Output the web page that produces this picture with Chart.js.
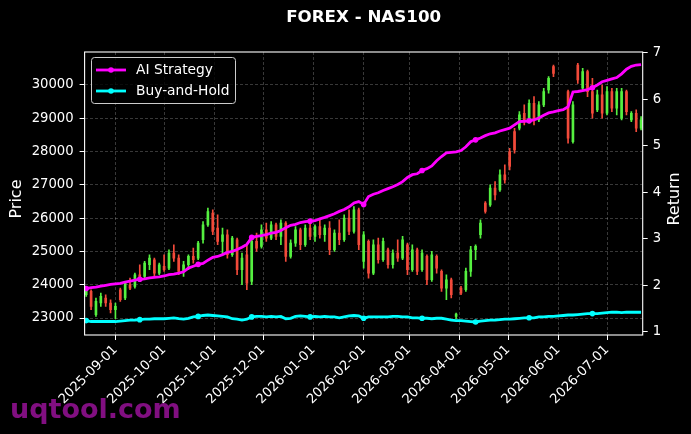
<!DOCTYPE html>
<html>
<head>
<meta charset="utf-8">
<script src="https://cdn.jsdelivr.net/npm/chart.js@4.4.0/dist/chart.umd.min.js"></script>
<style>
  html, body { margin: 0; padding: 0; background: #000; }
  #wrap { width: 691px; height: 434px; }
</style>
</head>
<body>
<div id="wrap"><canvas id="myChart" width="691" height="434"></canvas></div>
<script>
// chart data
const chartTitle = "FOREX - NAS100";
const dates = [
  "2025-08-14","2025-08-17","2025-08-20","2025-08-23","2025-08-26","2025-08-29",
  "2025-09-01","2025-09-04","2025-09-07","2025-09-10","2025-09-13","2025-09-16","2025-09-19","2025-09-22","2025-09-25","2025-09-28",
  "2025-10-01","2025-10-04","2025-10-07","2025-10-10","2025-10-13","2025-10-16","2025-10-19","2025-10-22","2025-10-25","2025-10-28","2025-10-31",
  "2025-11-03","2025-11-06","2025-11-09","2025-11-12","2025-11-15","2025-11-18","2025-11-21","2025-11-24","2025-11-27","2025-11-30",
  "2025-12-03","2025-12-06","2025-12-09","2025-12-12","2025-12-15","2025-12-18","2025-12-21","2025-12-24","2025-12-27","2025-12-30",
  "2026-01-02","2026-01-05","2026-01-08","2026-01-11","2026-01-14","2026-01-17","2026-01-20","2026-01-23","2026-01-26","2026-01-29",
  "2026-02-01","2026-02-04","2026-02-07","2026-02-10","2026-02-13","2026-02-16","2026-02-19","2026-02-22","2026-02-25","2026-02-28",
  "2026-03-03","2026-03-06","2026-03-09","2026-03-12","2026-03-15","2026-03-18","2026-03-21","2026-03-24","2026-03-27","2026-03-30",
  "2026-04-02","2026-04-05","2026-04-08","2026-04-11","2026-04-14","2026-04-17","2026-04-20","2026-04-23","2026-04-26","2026-04-29",
  "2026-05-02","2026-05-05","2026-05-08","2026-05-11","2026-05-14","2026-05-17","2026-05-20","2026-05-23","2026-05-26","2026-05-29",
  "2026-06-01","2026-06-04","2026-06-07","2026-06-10","2026-06-13","2026-06-16","2026-06-19","2026-06-22","2026-06-25","2026-06-28",
  "2026-07-01","2026-07-04","2026-07-07","2026-07-10","2026-07-13","2026-07-16","2026-07-19","2026-07-22"
];
const openP = [
  23700,23800,23100,23450,23600,23450,23250,23850,23600,24000,
  23950,24300,24250,24600,24750,24350,24550,24500,24950,24800,
  24400,24600,24850,24800,25350,25800,26150,25700,25300,25500,
  24900,25350,24450,24900,24100,25300,25150,25650,25400,25800,
  25450,25850,24850,25250,25650,25200,25700,25450,25750,25500,
  25700,25050,25550,25350,26000,25600,26250,24700,25300,24350,
  25200,24750,25050,24600,24950,24800,25200,24450,25050,24450,
  24850,24150,24850,24400,23900,24150,23050,23900,23850,24400,
  25050,25500,26450,26400,26900,26850,27300,28000,28600,28700,
  29150,28900,29450,28950,29400,29850,30550,null,null,29800,
  28300,30600,29900,30400,29800,29250,29700,29150,29800,29300,
  29000,29800,28950,29150,28700
];
const highP = [
  23900,23850,23600,23750,23700,23550,23450,23900,24100,24200,
  24350,24600,24700,24900,24800,24650,24900,25050,25200,24900,
  24700,24900,25100,25300,25900,26300,26250,26100,25700,25650,
  25450,25400,24950,25200,25400,25550,25800,25850,25900,25850,
  25950,25900,25350,25750,25700,25800,25900,25800,25950,25800,
  25900,25650,25950,26100,26250,26350,26300,25600,25350,25350,
  25400,25400,25100,25050,25350,25450,25250,25200,25100,25050,
  24900,25000,24900,24450,24300,24200,23150,23950,24500,25150,
  25200,25950,26500,27000,27100,27450,27600,28100,28700,29200,
  29400,29550,29650,29500,29900,30250,30600,null,null,29850,
  29500,30650,30500,30450,30200,29850,30000,29950,29900,29900,
  29900,29850,29200,29250,29050
];
const lowP = [
  23650,23250,23050,23350,23350,23150,22980,23500,23550,23850,
  23900,24150,24200,24450,24250,24300,24400,24450,24700,24300,
  24250,24450,24650,24750,25250,25750,25500,25200,24900,24800,
  24850,24300,24000,23850,24000,25000,25100,25300,25350,25350,
  25200,24700,24800,25150,25050,25150,25350,25300,25400,25300,
  24900,25000,25200,25300,25500,25550,25050,24500,24200,24300,
  24650,24700,24500,24500,24700,24750,24300,24400,24300,24400,
  24000,24100,24350,23800,23550,23600,22980,23700,23800,24250,
  24750,25400,26150,26350,26550,26800,27050,27450,27950,28650,
  28800,28850,28800,28900,29350,29750,30250,null,null,28250,
  28250,30050,29850,29650,29000,29200,29000,29100,29200,29100,
  28950,29100,28900,28600,28650
];
const closeP = [
  23850,23350,23500,23650,23450,23250,23350,23550,24050,23900,
  24300,24200,24650,24800,24350,24600,24450,24950,24800,24400,
  24600,24850,24750,25250,25800,26200,25600,25300,25500,24900,
  25400,24450,24800,24050,25300,25100,25650,25400,25800,25450,
  25850,24850,25250,25650,25200,25700,25450,25750,25500,25700,
  25050,25550,25350,26000,25600,26250,25200,25500,24350,25200,
  24750,25300,24600,24950,24800,25350,24450,25050,24400,24950,
  24150,24900,24500,23900,24150,23700,23120,23750,24400,25050,
  25150,25850,26200,26900,26700,27300,27150,27550,28050,29100,
  28900,29450,28950,29400,29800,30200,30350,null,null,28400,
  29400,30150,30400,29800,29150,29700,29150,29800,29300,29800,
  29800,29200,29150,28700,28950
];
const aiReturn = [
  1.93,1.95,1.96,1.98,2.00,2.02,2.03,2.04,2.07,2.09,
  2.11,2.13,2.14,2.16,2.17,2.18,2.20,2.23,2.24,2.26,
  2.29,2.37,2.41,2.45,2.47,2.54,2.60,2.62,2.66,2.71,
  2.73,2.77,2.82,2.88,3.03,3.05,3.07,3.09,3.12,3.14,
  3.18,3.24,3.29,3.31,3.35,3.37,3.38,3.39,3.43,3.46,
  3.50,3.54,3.59,3.63,3.69,3.77,3.80,3.74,3.91,3.96,
  3.99,4.04,4.08,4.12,4.17,4.23,4.32,4.38,4.40,4.47,
  4.51,4.57,4.68,4.77,4.85,4.86,4.87,4.90,4.98,5.09,
  5.13,5.17,5.22,5.26,5.28,5.32,5.35,5.38,5.45,5.52,
  5.53,5.54,5.56,5.60,5.66,5.71,5.73,5.76,5.78,5.84,
  6.16,6.17,6.19,6.21,6.25,6.31,6.38,6.41,6.44,6.47,
  6.55,6.65,6.71,6.74,6.75
];
const holdReturn = [
  1.24,1.22,1.22,1.22,1.22,1.22,1.22,1.23,1.24,1.25,
  1.25,1.26,1.27,1.27,1.28,1.28,1.28,1.29,1.30,1.28,
  1.27,1.29,1.32,1.33,1.35,1.36,1.35,1.34,1.33,1.32,
  1.28,1.27,1.25,1.27,1.32,1.33,1.33,1.32,1.33,1.32,
  1.33,1.28,1.29,1.33,1.34,1.33,1.32,1.33,1.32,1.33,
  1.32,1.32,1.30,1.32,1.34,1.35,1.34,1.29,1.32,1.32,
  1.32,1.32,1.32,1.33,1.33,1.32,1.32,1.30,1.30,1.29,
  1.29,1.28,1.29,1.29,1.27,1.25,1.24,1.24,1.23,1.22,
  1.21,1.23,1.24,1.25,1.25,1.26,1.27,1.27,1.28,1.29,
  1.30,1.30,1.30,1.32,1.32,1.33,1.33,1.34,1.35,1.36,
  1.36,1.37,1.38,1.39,1.39,1.39,1.40,1.41,1.42,1.42,
  1.41,1.42,1.42,1.42,1.42
];
const monthTicks = ["2025-09-01","2025-10-01","2025-11-01","2025-12-01","2026-01-01","2026-02-01",
                    "2026-03-01","2026-04-01","2026-05-01","2026-06-01","2026-07-01"];
const priceTicks = [23000, 24000, 25000, 26000, 27000, 28000, 29000, 30000];
const returnTicks = [1, 2, 3, 4, 5, 6, 7];
const markerIdx = [0, 11, 23, 34, 46, 57, 69, 80, 91, 104];

const DAY = 86400000;
const toDay = s => Date.parse(s) / DAY;
const fontFamily = '"DejaVu Sans", sans-serif';
const upColor = '#55f040', downColor = '#f24a3a';
const gridColor = 'rgba(255,255,255,0.22)';

const candles = [];
dates.forEach((d, i) => {
  if (openP[i] == null) return;
  candles.push({ x: toDay(d), o: openP[i], h: highP[i], l: lowP[i], c: closeP[i] });
});
const candleColors = candles.map(k => k.c >= k.o ? upColor : downColor);

// titles, frame, legend and watermark drawn over the chart
const decor = {
  id: 'decor',
  beforeDraw(chart) {
    const ctx = chart.ctx;
    ctx.save();
    ctx.fillStyle = '#000';
    ctx.fillRect(0, 0, chart.width, chart.height);
    ctx.restore();
  },
  afterDraw(chart) {
    const { ctx, chartArea: a } = chart;
    ctx.save();
    ctx.strokeStyle = '#fff';
    ctx.lineWidth = 1.1;
    ctx.strokeRect(a.left, a.top, a.right - a.left, a.bottom - a.top);

    ctx.fillStyle = '#fff';
    ctx.textAlign = 'center';
    ctx.textBaseline = 'middle';
    ctx.font = 'bold 16.7px ' + fontFamily;
    ctx.fillText(chartTitle, (a.left + a.right) / 2, 18);

    ctx.font = '16px ' + fontFamily;
    ctx.save(); ctx.translate(17, 199); ctx.rotate(-Math.PI / 2); ctx.fillText('Price', 0, 0); ctx.restore();
    ctx.save(); ctx.translate(675, 199); ctx.rotate(-Math.PI / 2); ctx.fillText('Return', 0, 0); ctx.restore();

    // legend
    ctx.beginPath();
    ctx.roundRect(91.5, 57.5, 144, 46, 3);
    ctx.fillStyle = 'rgba(0,0,0,0.8)';
    ctx.fill();
    ctx.strokeStyle = '#cccccc';
    ctx.lineWidth = 1;
    ctx.stroke();
    const items = chart.data.datasets.filter(ds => ds.type === 'line');
    items.forEach((ds, i) => {
      const y = 70 + i * 21;
      ctx.strokeStyle = ds.borderColor;
      ctx.lineWidth = 2.8;
      ctx.beginPath(); ctx.moveTo(96, y); ctx.lineTo(126, y); ctx.stroke();
      ctx.fillStyle = ds.borderColor;
      ctx.beginPath(); ctx.arc(111, y, 2.8, 0, Math.PI * 2); ctx.fill();
      ctx.fillStyle = '#fff';
      ctx.textAlign = 'left';
      ctx.font = '13.8px ' + fontFamily;
      ctx.fillText(ds.label, 136, y);
    });

    ctx.font = 'bold 27px ' + fontFamily;
    ctx.fillStyle = 'rgba(140,16,140,0.92)';
    ctx.textAlign = 'left';
    ctx.textBaseline = 'alphabetic';
    ctx.fillText('uqtool.com', 10, 418);
    ctx.restore();
  }
};

const tickFont = { family: fontFamily, size: 13.2 };

const ctx = document.getElementById('myChart').getContext('2d');
const chart = new Chart(ctx, {
  type: 'bar',
  data: {
    datasets: [{
      type: 'line',
      label: 'AI Strategy',
      yAxisID: 'y1',
      data: dates.map((d, i) => ({ x: toDay(d), y: aiReturn[i] })),
      borderColor: '#ff00ff',
      backgroundColor: '#ff00ff',
      borderWidth: 2.8,
      pointRadius: c => markerIdx.includes(c.dataIndex) ? 2.8 : 0,
      pointBorderWidth: 0,
      tension: 0,
      order: 0
    }, {
      type: 'line',
      label: 'Buy-and-Hold',
      yAxisID: 'y1',
      data: dates.map((d, i) => ({ x: toDay(d), y: holdReturn[i] })),
      borderColor: '#00ffff',
      backgroundColor: '#00ffff',
      borderWidth: 2.8,
      pointRadius: c => markerIdx.includes(c.dataIndex) ? 2.8 : 0,
      pointBorderWidth: 0,
      tension: 0,
      order: 0
    }, {
      label: 'Range',
      yAxisID: 'y',
      data: candles.map(k => ({ x: k.x, y: [k.l, k.h] })),
      backgroundColor: candleColors,
      barThickness: 1,
      grouped: false,
      order: 2
    }, {
      label: 'Body',
      yAxisID: 'y',
      data: candles.map(k => ({ x: k.x, y: [k.o, k.c] })),
      backgroundColor: candleColors,
      barThickness: 2,
      grouped: false,
      order: 1
    }]
  },
  options: {
    responsive: false,
    animation: false,
    devicePixelRatio: 1,
    layout: { padding: { top: 52, left: 0, right: 0, bottom: 0 } },
    plugins: { legend: { display: false }, tooltip: { enabled: false }, title: { display: false } },
    scales: {
      x: {
        type: 'linear',
        min: toDay('2025-08-13'),
        max: toDay('2026-07-23'),
        offset: false,
        afterBuildTicks: s => { s.ticks = monthTicks.map(m => ({ value: toDay(m) })); },
        afterFit: s => { s.height = 99; },
        ticks: {
          autoSkip: false, maxRotation: 45, minRotation: 45, color: '#fff', font: tickFont, padding: 2,
          callback: v => new Date(v * DAY).toISOString().slice(0, 10)
        },
        grid: { color: gridColor, lineWidth: 1, offset: false, tickColor: '#fff', tickLength: 5, tickWidth: 1, tickBorderDash: [] },
        border: { display: false, dash: [3, 2] }
      },
      y: {
        type: 'linear',
        position: 'left',
        min: 22490,
        max: 30990,
        afterBuildTicks: s => { s.ticks = priceTicks.map(v => ({ value: v })); },
        afterFit: s => { s.width = 84.6; },
        ticks: { color: '#fff', font: tickFont, padding: 6, callback: v => String(v) },
        grid: { color: gridColor, lineWidth: 1, tickColor: '#fff', tickLength: 5, tickWidth: 1, tickBorderDash: [] },
        border: { display: false, dash: [3, 2] }
      },
      y1: {
        type: 'linear',
        position: 'right',
        min: 0.93,
        max: 7.02,
        afterBuildTicks: s => { s.ticks = returnTicks.map(v => ({ value: v })); },
        afterFit: s => { s.width = 48.3; },
        ticks: { color: '#fff', font: tickFont, padding: 5, callback: v => String(v) },
        grid: { drawOnChartArea: false, tickColor: '#fff', tickLength: 5, tickWidth: 1, tickBorderDash: [] },
        border: { display: false }
      }
    }
  },
  plugins: [decor]
});
</script>
</body>
</html>
